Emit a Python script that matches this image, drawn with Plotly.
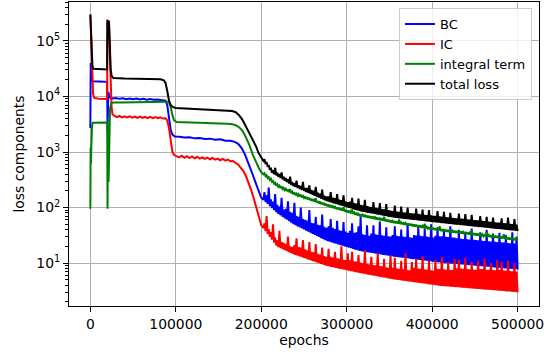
import plotly.graph_objects as go

# ---- training-loss history (epochs, loss values) ----
bc_head_epochs = [0, 400, 1200, 3000, 10000, 19600, 20100, 21000, 22500, 26000, 30000, 34000,
                  38000, 42000, 46000, 50000, 54000, 58000, 62000, 66000, 70000, 74000, 78000,
                  82000, 86000, 88000, 90000, 92000, 94000, 96000, 99000, 104000, 110000, 116000,
                  122000, 128000, 134000, 140000, 146000, 152000, 158000, 164000, 169000, 173000,
                  177000, 181000, 185000, 189000, 193000, 197000, 200000]
bc_head = [2700, 40000, 19000, 18700, 18500, 18300, 2500, 12000, 9600, 9200, 9400, 9050,
           9300, 8950, 9200, 8900, 9150, 8800, 9050, 8750, 8950, 8700, 8850,
           8600, 8500, 8400, 7000, 4000, 2500, 2050, 1900, 1880, 1820, 1850,
           1760, 1790, 1710, 1740, 1660, 1690, 1600, 1590, 1520, 1400,
           1180, 900, 640, 430, 290, 190, 150]

ic_head_epochs = [0, 700, 1400, 2200, 3200, 4500, 10000, 19600, 20000, 20800, 21800, 22800, 23800,
                  24800, 26000, 28000, 31000, 34000, 37000, 40000, 43000, 46000, 49000, 52000,
                  55000, 58000, 61000, 64000, 67000, 70000, 73000, 76000, 79000, 82000, 85000,
                  88000, 90000, 92000, 94000, 96000, 98000, 101000, 104000, 107000, 110000,
                  113000, 116000, 119000, 122000, 125000, 128000, 131000, 134000, 137000,
                  140000, 143000, 146000, 149000, 152000, 155000, 158000, 161000, 164000,
                  167000, 170000, 173000, 176000, 179000, 182000, 185000, 188000, 191000,
                  194000, 197000, 200000]
ic_head = [290000, 130000, 50000, 20000, 11000, 9400, 9100, 9000, 240000, 100000, 200000, 60000, 16000,
           6500, 4700, 4500, 4250, 4450, 4200, 4400, 4180, 4380, 4150, 4350,
           4120, 4330, 4100, 4300, 4080, 4280, 4060, 4250, 4050, 4200, 4000,
           4050, 3700, 2700, 1500, 1000, 880, 840, 800, 860, 790,
           840, 780, 830, 770, 820, 760, 800, 750, 790,
           740, 780, 730, 760, 710, 750, 700, 730, 680,
           690, 640, 590, 520, 460, 370, 290, 210, 150,
           105, 70, 48]

int_head_epochs = [0, 300, 700, 1200, 2000, 3000, 10000, 19700, 20100, 20600, 21300, 22000, 23000,
                   24500, 27000, 35000, 45000, 55000, 65000, 75000, 85000, 90000, 92000, 94000,
                   96000, 98000, 101000, 110000, 120000, 130000, 140000, 150000, 160000, 166000,
                   170000, 174000, 178000, 182000, 186000, 190000, 194000, 197000, 200000]
int_head = [95, 1200, 620, 1400, 3000, 3350, 3400, 3400, 95, 3000, 290, 2500, 6000,
            7600, 7750, 7800, 7850, 7900, 7950, 8000, 8050, 8050, 7800, 6500,
            4600, 3700, 3450, 3420, 3400, 3370, 3330, 3280, 3220, 3150,
            3050, 2800, 2400, 1850, 1350, 900, 640, 520, 430]

total_head_epochs = [0, 800, 1600, 2400, 3500, 10000, 19600, 20000, 20800, 21800, 22800, 23800,
                     25000, 27000, 40000, 55000, 70000, 82000, 86000, 88000, 90000, 92000, 94000,
                     97000, 100000, 115000, 130000, 145000, 160000, 166000, 170000, 174000,
                     178000, 182000, 186000, 190000, 194000, 197000, 200000]
total_head = [300000, 140000, 60000, 36000, 31500, 31000, 30500, 240000, 110000, 230000, 80000, 30000,
              23000, 21500, 21000, 20800, 20600, 20300, 19500, 17500, 12500, 8500, 7000,
              6400, 6200, 6050, 5950, 5800, 5600, 5450, 5200, 4600,
              3800, 2900, 2200, 1700, 1250, 950, 780]

# late phase: troughs logged at 202500, 205000, ..., 500000 and
# peaks logged half-way between them (203750, ..., 498750)
trough_epochs = list(range(202500, 500001, 2500))
peak_epochs = list(range(203750, 500000, 2500))

bc_troughs = [138, 126, 116, 106, 97.5, 89.5, 82.2, 76.7, 72.3, 68.1,
              64.1, 60.4, 56.9, 53.5, 50.4, 48.1, 46, 44, 42.1, 40.3,
              38.5, 36.8, 35.2, 33.7, 32.2, 30.8, 29.5, 28.2, 27, 25.8,
              24.8, 24.2, 23.5, 22.9, 22.3, 21.7, 21.1, 20.6, 20.0, 19.5,
              19.0, 18.5, 18, 17.5, 17.1, 16.6, 16.3, 16.1, 15.8, 15.6,
              15.4, 15.2, 14.9, 14.7, 14.5, 14.3, 14.1, 13.9, 13.7, 13.5,
              13.3, 13.1, 12.9, 12.8, 12.65, 12.5, 12.4, 12.2, 12.1, 11.9,
              11.8, 11.7, 11.5, 11.4, 11.3, 11.1, 11.0, 10.9, 10.8, 10.6,
              10.5, 10.4, 10.3, 10.2, 10.1, 10.0, 9.95, 9.87, 9.8, 9.72,
              9.64, 9.57, 9.49, 9.42, 9.34, 9.27, 9.19, 9.12, 9.06, 8.98,
              8.91, 8.83, 8.77, 8.69, 8.63, 8.57, 8.49, 8.43, 8.36, 8.3,
              8.22, 8.17, 8.11, 8.04, 7.98, 7.91, 7.85, 7.78, 7.73, 7.66]
bc_peaks = [190, 165, 230, 140, 128, 175, 112, 104, 150, 92,
            95, 130, 84, 80, 122, 71, 68, 100, 62, 60,
            58, 90, 53, 52, 68, 49, 48, 75, 45, 43,
            46, 62, 43, 41, 58, 39, 38, 55, 37, 35,
            38, 52, 35, 36, 46, 70, 33, 32, 48, 31,
            34, 48, 33, 32, 56, 31.5, 31, 44, 30.5, 30,
            32, 46, 31, 30.5, 40, 30, 29.5, 52, 29, 28.5,
            32, 31.5, 46, 31, 30.5, 42, 30, 29.5, 50, 29,
            31, 44, 30.5, 30.5, 38, 29.7, 29.5, 46, 29, 28.8,
            28, 40, 27.5, 27, 36, 26.8, 26.5, 42, 26.2, 26,
            25.7, 36, 25.3, 25, 40, 24.7, 24.5, 34, 24.2, 24,
            35, 23.6, 23.4, 32, 23, 22.8, 36, 22.5, 30]

ic_troughs = [42.6, 37.8, 33.5, 29.7, 26.4, 23.4, 20.8, 19.4, 18.6, 17.9,
              17.1, 16.4, 15.7, 15.1, 14.5, 14.0, 13.6, 13.2, 12.8, 12.4,
              12.0, 11.6, 11.3, 10.9, 10.6, 10.3, 9.97, 9.66, 9.37, 9.08,
              8.85, 8.67, 8.51, 8.36, 8.2, 8.04, 7.89, 7.74, 7.6, 7.45,
              7.31, 7.18, 7.05, 6.91, 6.78, 6.65, 6.53, 6.43, 6.32, 6.22,
              6.11, 6.01, 5.92, 5.82, 5.73, 5.64, 5.53, 5.45, 5.36, 5.27,
              5.19, 5.1, 5.04, 4.98, 4.92, 4.85, 4.8, 4.74, 4.68, 4.62,
              4.57, 4.51, 4.46, 4.4, 4.35, 4.3, 4.25, 4.19, 4.14, 4.09,
              4.04, 3.99, 3.94, 3.89, 3.86, 3.84, 3.8, 3.78, 3.75, 3.72,
              3.7, 3.67, 3.64, 3.61, 3.59, 3.56, 3.54, 3.51, 3.48, 3.46,
              3.44, 3.41, 3.39, 3.36, 3.33, 3.31, 3.29, 3.27, 3.24, 3.21,
              3.19, 3.17, 3.15, 3.13, 3.1, 3.08, 3.05, 3.03, 3.01, 2.99]
ic_peaks = [52, 70, 41, 36, 50, 29, 26, 38, 24, 23,
            22, 30, 20, 19.5, 21, 28, 19.4, 19, 26, 17.7,
            17, 24, 16, 15.6, 22, 14.6, 14.2, 19, 13.3, 13,
            18, 12.9, 12.6, 16, 12.2, 11.9, 20, 11.5, 11.3, 15,
            11.2, 16, 10.8, 10.6, 14, 10.2, 10, 17, 9.7, 9.5,
            13, 9.25, 9.1, 15, 8.8, 8.7, 12, 8.4, 8.2, 14,
            8.2, 12.5, 8, 7.9, 11, 7.7, 15, 7.5, 7.4, 10.5,
            8.2, 12, 8, 7.9, 13.5, 7.7, 7.6, 11, 7.4, 7.3,
            11.5, 7.9, 7.8, 13, 7.7, 7.6, 10.5, 7.5, 7.5, 12,
            8.1, 11.5, 8, 7.9, 12.5, 7.8, 7.7, 10.5, 7.6, 7.6,
            11, 7.8, 7.8, 12, 7.6, 7.6, 10, 7.5, 7.4, 11.5,
            7.5, 10.5, 7.4, 7.3, 11, 7.2, 7.1, 10, 7.05]

int_troughs = [397, 367, 340, 314, 290, 268, 248, 235, 225, 215,
               206, 197, 189, 181, 173, 167.5, 162.5, 157.5, 152.7, 148,
               143.5, 139, 134.9, 130.6, 126.7, 122.7, 118.9, 115.3, 111.7, 108.4,
               105.2, 102.4, 99.7, 97.1, 94.6, 92.1, 89.7, 87.3, 85, 82.8,
               80.6, 78.5, 76.4, 74.4, 72.5, 70.6, 69.2, 67.9, 66.7, 65.6,
               64.4, 63.2, 62.1, 61.1, 60, 58.9, 57.8, 56.9, 55.8, 54.8,
               53.8, 52.8, 52.1, 51.3, 50.6, 49.8, 49, 48.3, 47.5, 46.9,
               46.1, 45.4, 44.8, 44.1, 43.4, 42.8, 42.1, 41.5, 40.8, 40.3,
               39.6, 39.1, 38.5, 37.9, 37.5, 37.1, 36.7, 36.3, 35.9, 35.5,
               35.2, 34.8, 34.4, 34, 33.7, 33.3, 32.9, 32.5, 32.2, 31.8,
               31.5, 31.1, 30.8, 30.5, 30.1, 29.8, 29.5, 29.2, 28.8, 28.5,
               28.2, 27.9, 27.6, 27.3, 27, 26.7, 26.4, 26.1, 25.9, 25.6]
int_peaks = [415, 382, 352, 330, 300, 280, 262, 248, 240, 226,
             218, 212, 215, 192, 188, 178, 173, 170, 162, 158,
             153, 150, 144, 142, 148, 131, 128, 123, 121, 116,
             113, 111, 106, 106, 101, 99, 97, 101, 92, 88.5,
             86, 92, 81.5, 81, 77, 76, 74, 74, 71.5, 71,
             69, 69, 66.5, 66, 64, 64, 68, 61, 60, 59,
             57.5, 57, 56, 61, 54, 54, 52.5, 52, 51, 50.5,
             49.5, 49, 48, 47.5, 46.5, 51, 45, 44.5, 44, 43.5,
             42.5, 42, 46, 41, 40.5, 40, 39.5, 39, 38.5, 38.3,
             38, 37.5, 37, 36.5, 36.2, 35.8, 35.3, 38.5, 34.6, 34.2,
             34, 33.5, 33, 32.8, 36, 32, 31.7, 31.3, 31, 30.7,
             30.3, 30, 33, 29.3, 29, 28.7, 28.4, 28.1, 27.8]

total_troughs = [690, 610, 540, 477, 422, 399, 378, 358, 339, 321,
                 303, 287, 272, 257, 244, 234, 225, 216, 207, 199.5,
                 191, 184, 177, 170, 163, 157, 151, 145, 139, 134,
                 129, 126, 122, 119, 116, 113, 110, 107, 104, 101.6,
                 99, 96.4, 93.8, 91.4, 89, 86.7, 84.9, 83.5, 82.1, 80.7,
                 79.4, 78.1, 76.8, 75.5, 74.3, 73, 71.8, 70.6, 69.4, 68.2,
                 67.1, 66, 65.3, 64.7, 64, 63.4, 62.8, 62.1, 61.5, 60.9,
                 60.3, 59.7, 59.1, 58.5, 57.9, 57.3, 56.7, 56.1, 55.6, 55.0,
                 54.5, 53.9, 53.4, 52.8, 52.4, 51.9, 51.4, 50.9, 50.5, 50.0,
                 49.5, 49.1, 48.6, 48.2, 47.7, 47.3, 46.9, 46.4, 46.0, 45.6,
                 45.2, 44.7, 44.3, 43.9, 43.5, 43.1, 42.7, 42.3, 41.9, 41.5,
                 41.2, 40.8, 40.4, 40.0, 39.7, 39.3, 38.9, 38.6, 38.2, 37.8]
total_peaks = [740, 660, 585, 520, 470, 520, 425, 400, 430, 360,
               340, 322, 360, 288, 275, 305, 253, 243, 290, 224,
               225, 250, 208, 200, 235, 185, 178, 210, 164, 158,
               159, 190, 151, 147, 175, 139, 136, 165, 129, 125,
               127, 150, 120, 117, 145, 112, 109, 138, 106, 104,
               102, 125, 99, 97, 120, 94, 92.6, 115, 89.4, 88,
               86.5, 108, 84.5, 83.6, 104, 82, 81, 100, 79.6, 78.8,
               78, 96, 76.5, 75.5, 92, 74, 73, 90, 72, 71,
               70.5, 86, 69, 68.4, 84, 67, 66.5, 80, 65, 64.7,
               64, 78, 63, 62.3, 76, 61, 60.6, 74, 59.5, 59,
               58.5, 70, 57.3, 56.8, 68, 55.8, 55.3, 66, 54.2, 53.7,
               53.3, 64, 52.3, 51.7, 66, 50.8, 50.3, 62, 49.4]

series_names = ["BC", "IC", "integral term", "total loss"]
series_colors = ["#0000ff", "#ff0000", "#008000", "#000000"]

x_tick_vals = [0, 100000, 200000, 300000, 400000, 500000]
x_tick_text = ["0", "100000", "200000", "300000", "400000", "500000"]
y_tick_vals = [10, 100, 1000, 10000, 100000]
y_tick_text = ["10<sup>1</sup>", "10<sup>2</sup>", "10<sup>3</sup>", "10<sup>4</sup>", "10<sup>5</sup>"]

series = [
    (bc_head_epochs, bc_head, bc_troughs, bc_peaks),
    (ic_head_epochs, ic_head, ic_troughs, ic_peaks),
    (int_head_epochs, int_head, int_troughs, int_peaks),
    (total_head_epochs, total_head, total_troughs, total_peaks),
]


def late_phase(troughs, peaks):
    """Merge the trough and peak logs into one time-ordered record."""
    xs, ys = [], []
    for i, lo in enumerate(troughs):
        xs.append(trough_epochs[i])
        ys.append(lo)
        if i < len(peaks):
            xs.append(peak_epochs[i])
            ys.append(peaks[i])
    return xs, ys


FONT = "DejaVu Sans"
FS = 13.9

fig = go.Figure()
for (ep, head, troughs, peaks), name, color in zip(series, series_names, series_colors):
    tx, ty = late_phase(troughs, peaks)
    fig.add_trace(go.Scatter(
        x=ep + tx, y=head + ty, name=name, mode="lines",
        line=dict(color=color, width=2),
    ))

minor_y = [d * 10 ** k for k in range(0, 6) for d in range(2, 10)]

fig.update_layout(
    width=554, height=356,
    margin=dict(l=69, r=15, t=2, b=50),
    paper_bgcolor="white", plot_bgcolor="white",
    font=dict(family=FONT, size=FS, color="black"),
    showlegend=True,
    legend=dict(
        x=0.985, y=0.98, xanchor="right", yanchor="top",
        bgcolor="rgba(255,255,255,0.8)", bordercolor="#cccccc", borderwidth=1,
        font=dict(family=FONT, size=13, color="black"),
    ),
)

fig.update_xaxes(
    range=[-25000, 525000],
    tickmode="array", tickvals=x_tick_vals, ticktext=x_tick_text,
    ticks="outside", ticklen=5, tickwidth=1, tickcolor="black",
    showline=True, linecolor="black", linewidth=1, mirror=True,
    showgrid=True, gridcolor="#b0b0b0", gridwidth=1, zeroline=False,
    title=dict(text="epochs", standoff=4, font=dict(family=FONT, size=FS)),
)
fig.update_yaxes(
    type="log", range=[0.228, 5.70],
    tickmode="array", tickvals=y_tick_vals, ticktext=y_tick_text,
    ticks="outside", ticklen=5, tickwidth=1, tickcolor="black",
    minor=dict(tickmode="array", tickvals=minor_y, ticks="outside", ticklen=3,
               tickwidth=1, tickcolor="black", showgrid=False),
    showline=True, linecolor="black", linewidth=1, mirror=True,
    showgrid=True, gridcolor="#b0b0b0", gridwidth=1, zeroline=False,
    title=dict(text="loss components", standoff=8, font=dict(family=FONT, size=FS)),
)

fig.write_html("out.html")
